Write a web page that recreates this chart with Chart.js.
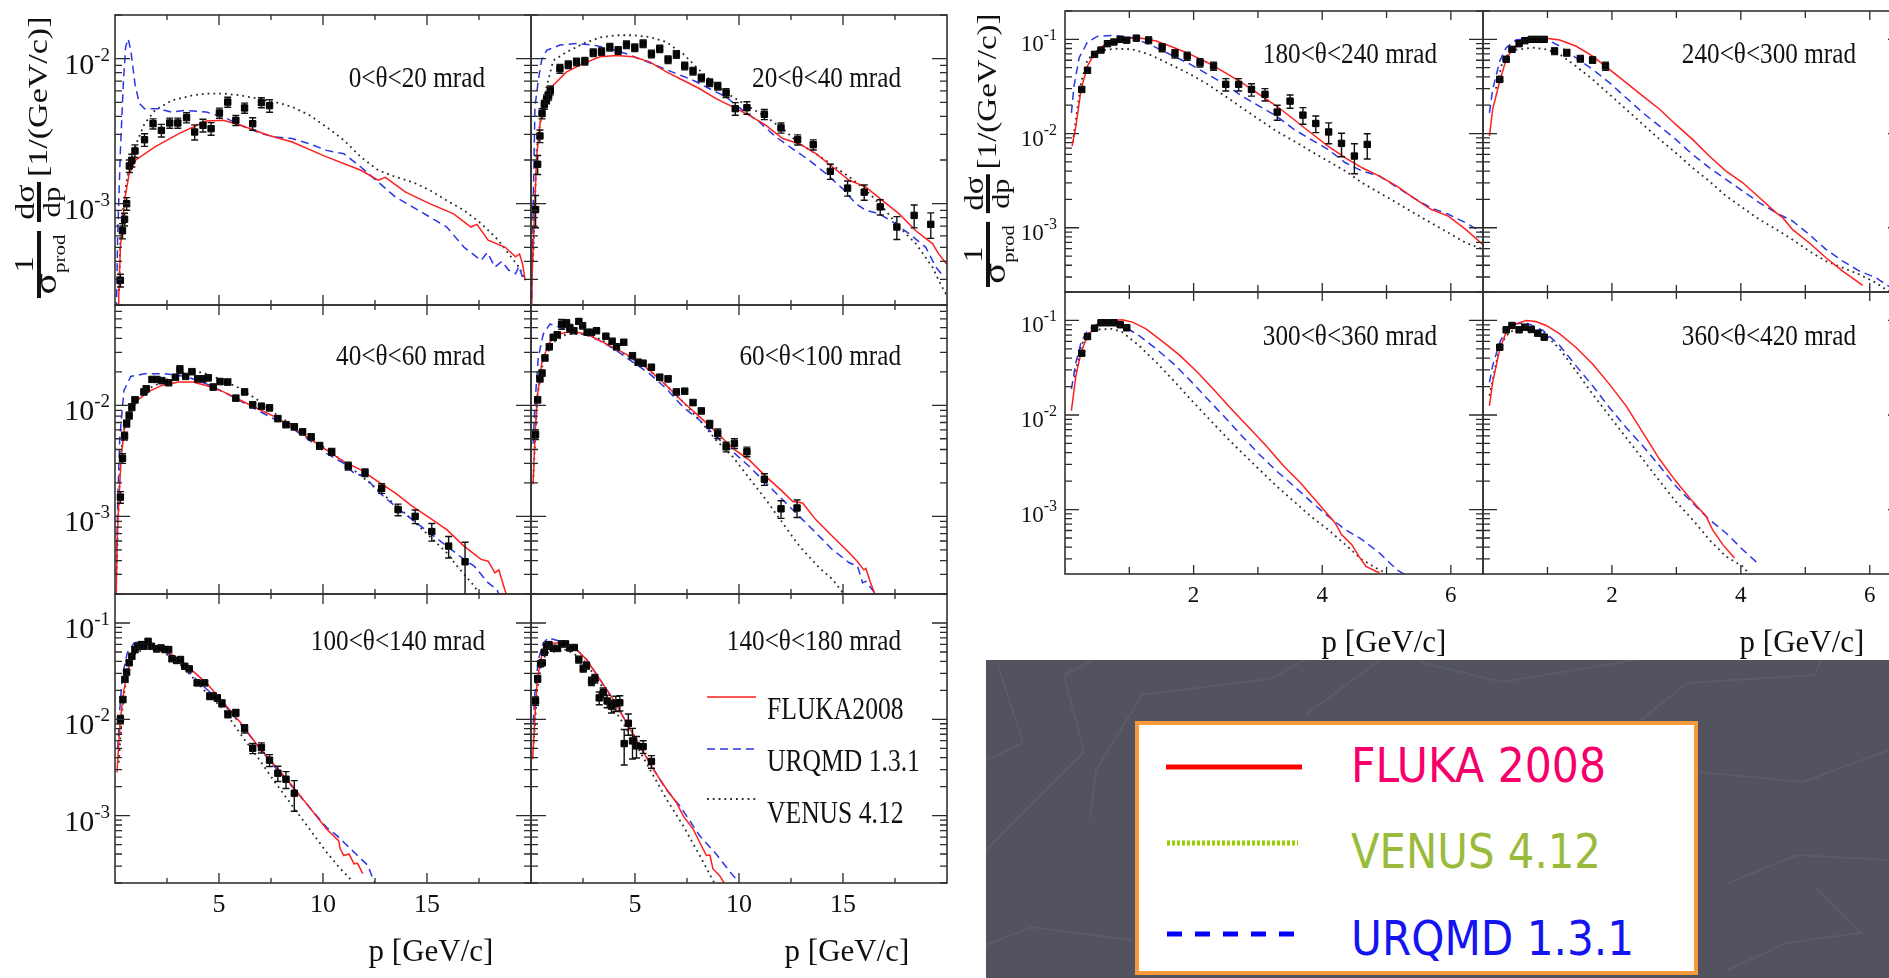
<!DOCTYPE html>
<html>
<head>
<meta charset="utf-8">
<title>pi- spectra vs models</title>
<script src="https://cdn.jsdelivr.net/npm/chart.js@4.4.1/dist/chart.umd.min.js"></script>
<style>
  html, body { margin: 0; padding: 0; background: #fff; overflow: hidden; }
  #page { position: relative; width: 1889px; height: 978px; overflow: hidden; background: #fff; }
  #page canvas { position: absolute; z-index: 1; }
  #page #deco { left: 0; top: 0; z-index: 2; pointer-events: none; }
  #dark { position: absolute; left: 986px; top: 660px; z-index: 3; }
</style>
</head>
<body>
<div id="page">
  <canvas id="deco" width="1889" height="978"></canvas>
  <svg id="dark" width="903" height="318" xmlns="http://www.w3.org/2000/svg">
    <rect x="0" y="0" width="903" height="318" fill="#52535f"/>
    <g fill="none" stroke="#5b5c68" stroke-width="2">
      <polyline points="11,2 37,83 0,100"/>
      <polyline points="78,15 107,0"/>
      <polyline points="78,15 98,92 0,190"/>
      <polyline points="156,35 284,19 319,0"/>
      <polyline points="156,35 110,110 104,158"/>
      <polyline points="394,0 319,55"/>
      <polyline points="434,2 516,22 649,0"/>
      <polyline points="701,23 829,15 835,0"/>
      <polyline points="701,23 655,60"/>
      <polyline points="713,112 817,122 903,90"/>
      <polyline points="742,223 811,195 903,200"/>
      <polyline points="829,227 875,273 800,283 742,310"/>
      <polyline points="0,285 46,267 145,280"/>
    </g>
    <rect x="151" y="63" width="559" height="250" fill="#fff" stroke="#f5993b" stroke-width="4"/>
    <line x1="180" y1="107" x2="316" y2="107" stroke="#ff0000" stroke-width="5"/>
    <line x1="181" y1="183" x2="312" y2="183" stroke="#99cc00" stroke-width="5" stroke-dasharray="3 2"/>
    <line x1="181" y1="274" x2="310" y2="274" stroke="#0000ff" stroke-width="5" stroke-dasharray="15 13"/>
    <g font-family="'DejaVu Sans Condensed', 'DejaVu Sans', sans-serif" font-size="48">
      <text x="365" y="122" fill="#f5006a" textLength="255" lengthAdjust="spacingAndGlyphs">FLUKA 2008</text>
      <text x="365" y="208" fill="#9aba3c" textLength="250" lengthAdjust="spacingAndGlyphs">VENUS 4.12</text>
      <text x="365" y="295" fill="#1414f0" textLength="283" lengthAdjust="spacingAndGlyphs">URQMD 1.3.1</text>
    </g>
  </svg>
</div>
<script>
// labels and ticks
const angleBins = ['0<θ<20 mrad', '20<θ<40 mrad', '40<θ<60 mrad', '60<θ<100 mrad', '100<θ<140 mrad',
  '140<θ<180 mrad', '180<θ<240 mrad', '240<θ<300 mrad', '300<θ<360 mrad', '360<θ<420 mrad'];
const modelNames = ['FLUKA2008', 'URQMD 1.3.1', 'VENUS 4.12'];
const xTicksWide = [5, 10, 15];
const xTicksNarrow = [2, 4, 6];
const yTickDecades = [1e-1, 1e-2, 1e-3];

// 0-20 mrad
const A_p = [0.26,0.36,0.46,0.56,0.69,0.81,0.96,1.42,1.83,2.23,2.63,3.02,3.44,3.83,4.23,4.62,5.02,5.42,5.81,6.23,6.62,7.04,7.43];
const A_y = [2.96e-4,6.5e-4,7.8e-4,1.0e-3,1.82e-3,1.99e-3,2.31e-3,2.76e-3,3.56e-3,3.2e-3,3.6e-3,3.6e-3,3.92e-3,3.12e-3,3.47e-3,3.29e-3,4.22e-3,5.02e-3,3.76e-3,4.57e-3,3.56e-3,4.98e-3,4.74e-3];
const A_err = [0.1,0.12,0.1,0.1,0.1,0.1,0.1,0.1,0.08,0.1,0.08,0.08,0.08,0.12,0.1,0.1,0.08,0.08,0.08,0.08,0.1,0.08,0.1];
const A_fluka = [[0.15,1.5e-4],[0.18,2.3e-4],[0.26,5e-4],[0.46,1.05e-3],[0.68,1.61e-3],[1.0,2.0e-3],[1.92,2.46e-3],[3.07,3.04e-3],[4.39,3.71e-3],[5.2,3.76e-3],[6.04,3.47e-3],[7.37,2.96e-3],[8.52,2.66e-3],[10.17,2.1e-3],[11.82,1.7e-3],[12.65,1.45e-3],[13.0,1.52e-3],[13.97,1.2e-3],[15.13,1.0e-3],[16.28,8.5e-4],[17.11,6.9e-4],[17.4,7.2e-4],[17.94,5.6e-4],[18.76,5.0e-4],[19.26,4.3e-4],[19.45,4.5e-4],[19.59,3.86e-4],[19.72,2.96e-4]];
const A_urqmd = [[0.06,1.5e-4],[0.13,6.2e-4],[0.26,2.33e-3],[0.40,6.7e-3],[0.51,1.2e-2],[0.63,1.37e-2],[0.76,1.14e-2],[0.96,6.7e-3],[1.17,4.9e-3],[1.42,4.52e-3],[2.08,4.52e-3],[2.74,4.28e-3],[3.40,4.4e-3],[4.39,4.28e-3],[5.22,3.96e-3],[6.04,3.47e-3],[7.04,3.04e-3],[7.70,2.88e-3],[8.52,2.81e-3],[9.35,2.59e-3],[10.17,2.33e-3],[11.0,2.21e-3],[11.82,1.79e-3],[12.65,1.41e-3],[13.48,1.11e-3],[14.3,9.5e-4],[15.13,8.1e-4],[15.95,6.9e-4],[16.78,5.0e-4],[17.6,4.06e-4],[17.9,4.6e-4],[18.27,3.65e-4],[18.6,4.0e-4],[18.93,3.47e-4],[19.26,3.29e-4],[19.42,3.7e-4],[19.59,3.12e-4]];
const A_venus = [[0.2,2.5e-4],[0.26,6.2e-4],[0.51,1.3e-3],[0.76,2.0e-3],[1.09,2.74e-3],[1.42,3.56e-3],[1.92,4.4e-3],[2.74,5.16e-3],[3.73,5.58e-3],[4.39,5.74e-3],[5.22,5.74e-3],[6.04,5.58e-3],[6.87,5.3e-3],[7.70,5.02e-3],[8.52,4.65e-3],[9.35,4.07e-3],[10.17,3.38e-3],[11.0,2.74e-3],[11.82,2.1e-3],[12.65,1.7e-3],[13.48,1.53e-3],[14.3,1.41e-3],[15.13,1.24e-3],[15.95,1.05e-3],[16.78,9.0e-4],[17.6,7.3e-4],[18.43,5.6e-4],[18.93,4.5e-4],[19.42,3.65e-4],[19.7,3.0e-4]];

// 20-40 mrad
const B_p = [0.22,0.32,0.43,0.53,0.64,0.75,0.85,0.93,1.39,1.79,2.19,2.59,2.99,3.39,3.79,4.19,4.59,4.99,5.39,5.79,6.19,6.59,6.99,7.39,7.79,8.19,8.59,8.98,9.38,9.82,10.38,11.22,12.02,12.82,13.57,14.39,15.22,16.02,16.79,17.59,18.42,19.22];
const B_y = [9.1e-4,1.87e-3,2.93e-3,4.18e-3,4.82e-3,5.25e-3,5.58e-3,6.05e-3,8.53e-3,9.1e-3,9.5e-3,9.6e-3,1.1e-2,1.12e-2,1.2e-2,1.14e-2,1.25e-2,1.19e-2,1.27e-2,1.08e-2,1.17e-2,9.85e-3,1.07e-2,8.9e-3,8.2e-3,7.36e-3,6.83e-3,6.47e-3,5.8e-3,4.52e-3,4.59e-3,4.13e-3,3.33e-3,2.76e-3,2.55e-3,1.67e-3,1.28e-3,1.2e-3,9.5e-4,6.9e-4,8.3e-4,7.2e-4];
const B_err = [0.25,0.15,0.1,0.08,0.07,0.07,0.07,0.07,0.07,0.06,0.06,0.06,0.06,0.06,0.06,0.06,0.06,0.06,0.06,0.06,0.06,0.06,0.06,0.06,0.06,0.06,0.06,0.06,0.07,0.1,0.1,0.08,0.08,0.08,0.08,0.12,0.12,0.12,0.12,0.18,0.18,0.2];
const B_fluka = [[0.03,1.8e-4],[0.06,3.4e-4],[0.16,8.1e-4],[0.27,2.1e-3],[0.43,3.56e-3],[0.75,5.44e-3],[1.07,6.55e-3],[1.71,8.1e-3],[2.51,9.24e-3],[3.31,1.03e-2],[4.11,1.05e-2],[4.91,1.03e-2],[5.71,9.5e-3],[6.51,8.1e-3],[7.31,7.1e-3],[8.11,6.2e-3],[8.90,5.3e-3],[9.70,4.65e-3],[10.5,4.06e-3],[11.3,3.47e-3],[12.1,2.81e-3],[12.9,2.59e-3],[13.7,2.21e-3],[14.5,1.79e-3],[15.3,1.45e-3],[16.1,1.3e-3],[16.9,1.05e-3],[17.7,8.5e-4],[18.5,6.5e-4],[19.3,5.3e-4],[19.6,4.5e-4],[20,3.8e-4]];
const B_urqmd = [[0.03,1.8e-4],[0.06,3.5e-4],[0.11,1.05e-3],[0.19,4.65e-3],[0.35,7.1e-3],[0.51,9.75e-3],[0.75,1.14e-2],[1.39,1.24e-2],[2.19,1.27e-2],[2.99,1.24e-2],[3.79,1.17e-2],[4.59,1.08e-2],[5.39,9.75e-3],[6.19,8.77e-3],[6.99,7.88e-3],[7.79,7.1e-3],[8.59,6.2e-3],[9.38,5.44e-3],[10.18,4.4e-3],[10.98,3.66e-3],[11.78,2.88e-3],[12.58,2.39e-3],[13.38,1.99e-3],[14.18,1.61e-3],[14.98,1.27e-3],[15.62,1.0e-3],[16.1,9.0e-4],[16.74,8.5e-4],[17.38,7.5e-4],[18.18,6.2e-4],[18.98,5.0e-4],[19.46,3.65e-4],[19.8,3.2e-4]];
const B_venus = [[0.1,4e-4],[0.27,2.33e-3],[0.59,5.2e-3],[1.07,9.7e-3],[1.71,1.11e-2],[2.51,1.27e-2],[3.31,1.40e-2],[4.11,1.45e-2],[4.91,1.45e-2],[5.71,1.41e-2],[6.51,1.30e-2],[7.31,1.08e-2],[8.11,8.3e-3],[8.90,6.55e-3],[9.70,5.44e-3],[10.5,4.65e-3],[11.3,3.96e-3],[12.1,3.29e-3],[12.9,2.59e-3],[13.7,2.21e-3],[14.5,1.84e-3],[15.3,1.53e-3],[16.1,1.24e-3],[16.9,9.5e-4],[17.7,6.9e-4],[18.5,5.3e-4],[19.3,3.65e-4],[19.6,2.96e-4],[20,2.3e-4]];

// 40-60 mrad
const C_p = [0.26,0.36,0.46,0.56,0.68,0.81,0.96,1.39,1.50,1.78,2.01,2.25,2.58,2.91,3.12,3.40,3.70,3.98,4.23,4.48,4.72,5.05,5.42,5.81,6.23,6.62,7.04,7.43,7.83,8.22,8.62,9.02,9.43,9.84,10.42,11.21,12.02,12.82,13.61,14.43,15.23,16.04,16.83];
const C_y = [1.49e-3,3.33e-3,5.3e-3,6.86e-3,8.1e-3,9.66e-3,1.12e-2,1.32e-2,1.41e-2,1.71e-2,1.71e-2,1.67e-2,1.6e-2,1.79e-2,2.1e-2,1.82e-2,2.01e-2,1.73e-2,1.73e-2,1.77e-2,1.46e-2,1.64e-2,1.62e-2,1.16e-2,1.32e-2,1.01e-2,9.8e-3,9.5e-3,7.6e-3,6.7e-3,6.4e-3,5.77e-3,5.2e-3,4.32e-3,3.82e-3,2.84e-3,2.48e-3,1.79e-3,1.15e-3,1.0e-3,7.3e-4,5.4e-4,3.9e-4];
const C_err = [0.12,0.1,0.08,0.07,0.07,0.07,0.06,0.06,0.06,0.06,0.06,0.06,0.06,0.06,0.08,0.06,0.06,0.06,0.06,0.06,0.06,0.06,0.06,0.06,0.06,0.06,0.06,0.06,0.06,0.06,0.06,0.06,0.06,0.07,0.07,0.08,0.08,0.1,0.12,0.14,0.18,0.22,0.5];
const C_fluka = [[0.06,2e-4],[0.1,5.8e-4],[0.18,1.32e-3],[0.30,3.44e-3],[0.46,6.4e-3],[0.76,9.0e-3],[1.09,1.11e-2],[1.59,1.32e-2],[2.25,1.51e-2],[3.07,1.62e-2],[3.73,1.62e-2],[4.39,1.51e-2],[5.22,1.32e-2],[6.04,1.11e-2],[6.87,9.3e-3],[7.70,7.87e-3],[8.52,6.4e-3],[9.35,5.02e-3],[10.17,3.95e-3],[11.0,3.11e-3],[11.82,2.62e-3],[12.65,2.06e-3],[13.48,1.62e-3],[14.3,1.23e-3],[15.13,9.7e-4],[15.95,7.6e-4],[16.78,5.4e-4],[17.6,4.1e-4],[17.94,3.95e-4],[18.27,3.1e-4],[18.45,3.3e-4],[18.76,2.13e-4],[18.9,1.8e-4]];
const C_urqmd = [[0.06,3e-4],[0.13,1.32e-3],[0.23,5.2e-3],[0.43,1.36e-2],[0.76,1.82e-2],[1.42,1.92e-2],[2.41,1.92e-2],[3.40,1.82e-2],[4.39,1.56e-2],[5.22,1.32e-2],[6.04,1.09e-2],[6.87,9.0e-3],[7.70,7.44e-3],[8.52,6.18e-3],[9.35,4.86e-3],[10.17,3.69e-3],[11.0,3.0e-3],[11.5,2.44e-3],[12.0,2.3e-3],[12.65,1.67e-3],[13.48,1.23e-3],[14.3,9.3e-4],[15.13,7.1e-4],[15.95,5.4e-4],[16.78,4.1e-4],[17.27,3.56e-4],[17.93,2.53e-4],[18.35,2.21e-4],[18.5,1.9e-4]];
const C_venus = [[0.08,3e-4],[0.15,9.3e-4],[0.26,3.44e-3],[0.46,6.4e-3],[0.76,9.66e-3],[1.42,1.36e-2],[2.41,1.67e-2],[3.07,1.92e-2],[3.73,2.06e-2],[4.39,1.92e-2],[5.22,1.67e-2],[6.04,1.41e-2],[6.87,1.11e-2],[7.70,8.4e-3],[9.35,5.2e-3],[11.0,3.1e-3],[12.65,1.73e-3],[14.3,9.3e-4],[15.13,6.6e-4],[15.95,4.7e-4],[16.45,3.56e-4],[17.27,2.36e-4],[17.44,2.1e-4],[17.6,1.9e-4]];

// 60-100 mrad
const D_p = [0.22,0.32,0.43,0.53,0.67,0.88,1.07,1.26,1.47,1.71,1.87,2.06,2.30,2.48,2.70,2.91,3.15,3.60,3.90,4.11,4.46,4.88,5.15,5.39,5.79,6.19,6.59,6.99,7.39,7.79,8.19,8.59,8.98,9.38,9.78,10.38,11.22,12.02,12.79];
const D_y = [5.46e-3,1.12e-2,1.73e-2,1.95e-2,2.67e-2,3.37e-2,4.09e-2,4.32e-2,5.38e-2,5.46e-2,4.96e-2,4.7e-2,5.69e-2,5.2e-2,4.54e-2,4.54e-2,4.7e-2,4.18e-2,3.77e-2,3.37e-2,3.69e-2,2.8e-2,2.44e-2,2.39e-2,2.2e-2,1.79e-2,1.73e-2,1.32e-2,1.34e-2,1.06e-2,8.9e-3,6.76e-3,5.57e-3,4.23e-3,4.54e-3,3.82e-3,2.16e-3,1.17e-3,1.19e-3];
const D_err = [0.1,0.06,0.06,0.06,0.06,0.06,0.06,0.06,0.1,0.08,0.08,0.06,0.06,0.06,0.06,0.06,0.06,0.06,0.06,0.06,0.06,0.06,0.06,0.06,0.06,0.06,0.06,0.06,0.06,0.06,0.06,0.08,0.1,0.1,0.1,0.1,0.12,0.18,0.18];
const D_fluka = [[0.1,1.95e-3],[0.19,5.2e-3],[0.30,1.19e-2],[0.51,2.36e-2],[0.83,3.56e-2],[1.23,4.32e-2],[1.71,4.54e-2],[2.19,4.54e-2],[2.67,4.38e-2],[3.31,3.82e-2],[4.11,3.21e-2],[4.91,2.67e-2],[5.71,2.06e-2],[6.51,1.51e-2],[7.31,1.07e-2],[8.11,7.87e-3],[8.90,5.77e-3],[9.70,4.09e-3],[10.5,3.21e-3],[11.3,2.28e-3],[12.1,1.67e-3],[12.58,1.36e-3],[13.06,1.32e-3],[13.7,9.3e-4],[14.5,6.6e-4],[15.3,4.7e-4],[15.7,3.9e-4],[16.0,3.3e-4],[16.1,3.4e-4],[16.3,2.6e-4],[16.5,2.07e-4],[16.6,1.8e-4]];
const D_urqmd = [[0.1,4.5e-3],[0.19,1.03e-2],[0.35,2.71e-2],[0.59,4.38e-2],[0.91,5.38e-2],[1.2,5.2e-2],[1.71,4.7e-2],[2.67,4.3e-2],[3.31,3.82e-2],[4.11,3.11e-2],[4.91,2.44e-2],[5.71,1.92e-2],[6.51,1.41e-2],[7.31,9.66e-3],[8.11,7.34e-3],[8.90,5.2e-3],[9.70,3.82e-3],[10.5,2.81e-3],[11.3,1.99e-3],[12.1,1.41e-3],[12.9,1.0e-3],[13.7,7.1e-4],[14.5,5.0e-4],[15.3,3.82e-4],[15.7,3.56e-4],[15.94,2.53e-4],[16.1,2.6e-4],[16.5,2.07e-4],[16.6,1.8e-4]];
const D_venus = [[0.1,2.0e-3],[0.30,1.19e-2],[0.59,2.53e-2],[1.07,3.7e-2],[1.71,4.38e-2],[2.51,4.38e-2],[3.31,3.96e-2],[4.11,3.21e-2],[4.91,2.6e-2],[5.71,2.06e-2],[6.51,1.51e-2],[7.31,1.07e-2],[8.11,7.34e-3],[8.9,4.86e-3],[9.7,3.44e-3],[10.5,2.2e-3],[11.3,1.41e-3],[12.1,8.7e-4],[12.9,5.4e-4],[13.86,3.44e-4],[14.5,2.71e-4],[14.98,2.06e-4],[15.1,1.9e-4]];

// 100-140 mrad
const E_p = [0.26,0.38,0.48,0.56,0.68,0.81,0.96,1.09,1.26,1.39,1.59,1.75,2.0,2.21,2.41,2.58,2.74,2.96,3.15,3.35,3.57,3.95,4.31,4.56,4.72,4.92,5.14,5.43,5.81,6.23,6.62,7.04,7.43,7.83,8.22,8.62];
const E_y = [1.0e-2,1.61e-2,2.6e-2,3.09e-2,3.86e-2,4.52e-2,5.3e-2,5.74e-2,5.97e-2,5.74e-2,6.46e-2,5.74e-2,5.38e-2,5.51e-2,5.3e-2,5.3e-2,4.25e-2,4.08e-2,4.18e-2,3.56e-2,3.34e-2,2.39e-2,2.39e-2,1.74e-2,1.74e-2,1.67e-2,1.47e-2,1.13e-2,1.17e-2,8.0e-3,5.01e-3,5.09e-3,3.77e-3,2.76e-3,2.39e-3,1.71e-3];
const E_err = [0.1,0.07,0.06,0.06,0.06,0.06,0.06,0.06,0.06,0.06,0.06,0.06,0.06,0.06,0.06,0.06,0.06,0.06,0.06,0.06,0.06,0.06,0.06,0.08,0.08,0.08,0.08,0.08,0.08,0.1,0.12,0.12,0.14,0.18,0.2,0.35];
const E_fluka = [[0.1,2.81e-3],[0.18,5.74e-3],[0.26,1.0e-2],[0.43,2.04e-2],[0.68,3.56e-2],[1.0,5.09e-2],[1.42,5.97e-2],[1.75,6.07e-2],[2.25,5.51e-2],[2.74,4.7e-2],[3.57,3.42e-2],[4.39,2.39e-2],[5.22,1.49e-2],[6.04,9.24e-3],[6.87,5.3e-3],[7.70,3.29e-3],[8.52,2.04e-3],[9.35,1.22e-3],[10.17,7.28e-4],[10.75,5.5e-4],[10.83,4.5e-4],[11.0,3.86e-4],[11.25,4.0e-4],[11.49,3.16e-4],[11.66,3.2e-4],[11.91,2.5e-4]];
const E_urqmd = [[0.13,4.9e-3],[0.23,1.27e-2],[0.35,2.8e-2],[0.59,4.9e-2],[0.92,6.2e-2],[1.26,6.46e-2],[1.75,5.97e-2],[2.41,5.09e-2],[3.24,3.7e-2],[4.06,2.39e-2],[5.22,1.45e-2],[6.04,8.9e-3],[6.87,5.3e-3],[7.70,3.16e-3],[8.52,2.0e-3],[9.35,1.22e-3],[10.17,7.57e-4],[10.67,6.2e-4],[11.0,5.3e-4],[11.66,3.86e-4],[12.16,3.04e-4],[12.4,2.21e-4],[12.5,2.0e-4]];
const E_venus = [[0.18,3.56e-3],[0.35,1.27e-2],[0.59,3.29e-2],[1.0,4.9e-2],[1.59,5.51e-2],[2.25,5.09e-2],[3.07,3.86e-2],[3.9,2.49e-2],[4.39,1.89e-2],[5.22,1.27e-2],[6.04,7.0e-3],[6.87,4.0e-3],[7.70,2.21e-3],[8.52,1.27e-3],[9.35,7.28e-4],[10.17,4.18e-4],[10.83,2.81e-4],[11.25,2.3e-4],[11.4,2.0e-4]];

// 140-180 mrad
const F_p = [0.22,0.32,0.46,0.54,0.64,0.75,0.86,1.07,1.28,1.47,1.66,1.87,2.08,2.30,2.51,2.67,2.91,3.07,3.28,3.47,3.66,3.87,4.08,4.27,4.48,4.68,4.88,5.07,5.39,5.79];
const F_y = [1.55e-2,2.64e-2,3.77e-2,3.86e-2,4.97e-2,5.74e-2,5.97e-2,5.47e-2,5.44e-2,6.07e-2,6.07e-2,5.51e-2,5.57e-2,4.18e-2,3.37e-2,3.62e-2,2.49e-2,2.65e-2,1.67e-2,1.89e-2,1.55e-2,1.37e-2,1.47e-2,1.49e-2,5.6e-3,9.1e-3,5.97e-3,5.3e-3,5.21e-3,3.65e-3];
const F_err = [0.1,0.08,0.06,0.06,0.06,0.06,0.06,0.06,0.06,0.06,0.06,0.06,0.06,0.08,0.08,0.08,0.1,0.1,0.15,0.12,0.15,0.15,0.18,0.18,0.4,0.25,0.35,0.25,0.15,0.15];
const F_fluka = [[0.08,3.86e-3],[0.19,1.08e-2],[0.30,2.6e-2],[0.51,4.52e-2],[0.75,5.97e-2],[1.15,6.2e-2],[1.71,6.2e-2],[2.19,5.3e-2],[2.67,4.18e-2],[3.31,2.6e-2],[3.95,1.61e-2],[4.59,9.24e-3],[5.23,5.3e-3],[5.87,3.04e-3],[6.51,1.89e-3],[6.99,1.37e-3],[7.31,1.0e-3],[7.79,7.28e-4],[8.11,5.3e-4],[8.43,3.86e-4],[8.6,3.9e-4],[8.75,2.8e-4],[9.06,2.4e-4],[9.26,2.04e-4],[9.35,1.8e-4]];
const F_urqmd = [[0.11,9.2e-3],[0.19,1.89e-2],[0.35,4.18e-2],[0.59,6.2e-2],[0.83,7.0e-2],[1.23,6.62e-2],[1.71,6.2e-2],[2.19,5.3e-2],[2.67,4.18e-2],[3.31,2.6e-2],[3.95,1.61e-2],[4.59,9.24e-3],[5.23,5.4e-3],[5.87,3.1e-3],[6.51,1.85e-3],[7.15,1.27e-3],[8.11,6.2e-4],[8.90,4.0e-4],[9.70,2.4e-4],[9.94,2.13e-4],[10.0,2.0e-4]];
const F_venus = [[0.11,4.9e-3],[0.30,2.04e-2],[0.51,3.86e-2],[0.75,4.9e-2],[1.71,5.3e-2],[2.51,4.18e-2],[3.31,2.39e-2],[4.11,1.17e-2],[4.91,6.2e-3],[5.71,3.04e-3],[6.51,1.49e-3],[7.31,7.9e-4],[8.11,3.86e-4],[8.75,2.13e-4],[8.85,1.9e-4]];

// 180-240 mrad
const G_p = [0.26,0.35,0.46,0.56,0.66,0.76,0.86,0.96,1.11,1.30,1.51,1.71,1.90,2.10,2.31,2.50,2.70,2.90,3.11,3.30,3.50,3.70,3.90,4.10,4.30,4.50,4.70];
const G_y = [2.94e-2,4.69e-2,6.93e-2,7.7e-2,9.0e-2,9.37e-2,0.1,9.8e-2,0.103,9.8e-2,8.2e-2,7.05e-2,6.65e-2,5.65e-2,5.21e-2,3.33e-2,3.33e-2,2.94e-2,2.61e-2,1.69e-2,2.21e-2,1.57e-2,1.28e-2,1.04e-2,7.87e-3,5.77e-3,7.67e-3];
const G_err = [0.05,0.05,0.05,0.05,0.05,0.05,0.05,0.05,0.05,0.08,0.1,0.1,0.1,0.1,0.1,0.15,0.15,0.15,0.15,0.18,0.16,0.2,0.2,0.25,0.28,0.35,0.3];
const G_fluka = [[0.11,7.36e-3],[0.17,1.2e-2],[0.25,2.94e-2],[0.35,5.21e-2],[0.46,7.2e-2],[0.62,8.85e-2],[0.89,0.1016],[1.15,0.104],[1.42,9.6e-2],[1.69,8.2e-2],[1.95,6.93e-2],[2.22,5.65e-2],[2.49,4.43e-2],[2.75,3.47e-2],[3.02,2.61e-2],[3.29,1.96e-2],[3.56,1.41e-2],[3.82,1.02e-2],[4.09,7.36e-3],[4.36,5.53e-3],[4.62,4.33e-3],[4.89,3.54e-3],[5.16,2.77e-3],[5.42,2.08e-3],[5.69,1.57e-3],[5.96,1.33e-3],[6.23,9.6e-4],[6.47,6.9e-4],[6.5,6.6e-4]];
const G_urqmd = [[0.1,1.66e-2],[0.14,3.19e-2],[0.22,6.38e-2],[0.35,9.37e-2],[0.51,0.108],[0.78,0.110],[1.05,0.104],[1.31,8.85e-2],[1.69,6.65e-2],[1.95,5.43e-2],[2.22,4.25e-2],[2.49,3.33e-2],[2.75,2.5e-2],[3.02,1.96e-2],[3.29,1.53e-2],[3.56,1.11e-2],[3.82,8.67e-3],[4.09,6.79e-3],[4.36,4.9e-3],[4.62,4.0e-3],[4.89,3.54e-3],[5.16,2.7e-3],[5.42,2.08e-3],[5.69,1.63e-3],[5.96,1.39e-3],[6.23,1.13e-3],[6.5,8.8e-4]];
const G_venus = [[0.12,8e-3],[0.25,3.47e-2],[0.35,6.14e-2],[0.51,7.52e-2],[0.78,7.96e-2],[1.05,7.83e-2],[1.31,6.93e-2],[1.69,5.21e-2],[1.95,4.25e-2],[2.22,3.33e-2],[2.49,2.5e-2],[2.75,1.88e-2],[3.02,1.41e-2],[3.29,1.06e-2],[3.56,8.32e-3],[3.82,6.52e-3],[4.09,5.1e-3],[4.36,4.0e-3],[4.62,3.0e-3],[4.89,2.35e-3],[5.16,1.84e-3],[5.42,1.44e-3],[5.69,1.13e-3],[5.96,8.85e-4],[6.23,6.93e-4],[6.5,5.9e-4]];

// 240-300 mrad
const H_p = [0.26,0.36,0.45,0.56,0.65,0.75,0.85,0.95,1.11,1.30,1.51,1.70,1.90];
const H_y = [3.76e-2,6.14e-2,7.83e-2,9.0e-2,9.68e-2,0.1,0.1,0.1,7.52e-2,7.22e-2,6.24e-2,6.04e-2,5.21e-2];
const H_err = [0.04,0.04,0.04,0.04,0.04,0.04,0.04,0.04,0.08,0.08,0.08,0.08,0.1];
const H_fluka = [[0.1,9.4e-3],[0.15,1.81e-2],[0.26,3.61e-2],[0.36,6.14e-2],[0.46,7.96e-2],[0.67,9.6e-2],[0.98,0.1025],[1.19,9.84e-2],[1.44,8.5e-2],[1.70,6.65e-2],[1.96,4.8e-2],[2.22,3.47e-2],[2.48,2.5e-2],[2.74,1.81e-2],[2.99,1.25e-2],[3.25,8.67e-3],[3.51,5.77e-3],[3.77,4.0e-3],[4.03,3.0e-3],[4.29,2.08e-3],[4.55,1.44e-3],[4.65,1.28e-3],[4.80,9.6e-4],[5.06,6.93e-4],[5.32,4.8e-4],[5.58,3.47e-4],[5.89,2.44e-4]];
const H_urqmd = [[0.1,1.66e-2],[0.15,2.94e-2],[0.26,5.89e-2],[0.36,8.16e-2],[0.51,9.84e-2],[0.77,0.104],[0.98,0.1],[1.19,8.5e-2],[1.44,6.38e-2],[1.70,4.8e-2],[1.96,3.47e-2],[2.22,2.4e-2],[2.48,1.66e-2],[2.74,1.2e-2],[2.99,8.67e-3],[3.25,6.01e-3],[3.51,4.34e-3],[3.77,3.26e-3],[4.03,2.45e-3],[4.29,1.84e-3],[4.55,1.44e-3],[4.80,1.18e-3],[5.06,8.5e-4],[5.32,5.9e-4],[5.58,4.43e-4],[5.84,3.47e-4],[6.10,2.94e-4],[6.29,2.4e-4],[6.5,2.1e-4]];
const H_venus = [[0.2,3e-2],[0.31,6.1e-2],[0.46,7.7e-2],[0.77,8.16e-2],[0.98,7.83e-2],[1.19,6.93e-2],[1.44,5.21e-2],[1.70,3.76e-2],[1.96,2.61e-2],[2.22,1.81e-2],[2.48,1.25e-2],[2.74,8.67e-3],[2.99,6.25e-3],[3.25,4.34e-3],[3.51,3.13e-3],[3.77,2.17e-3],[4.03,1.63e-3],[4.29,1.22e-3],[4.55,9.6e-4],[4.80,7.5e-4],[5.06,5.65e-4],[5.32,4.43e-4],[5.58,3.76e-4],[5.84,3.19e-4],[6.10,2.6e-4],[6.25,2.21e-4],[6.5,1.9e-4]];

// 300-360 mrad
const I_p = [0.26,0.35,0.46,0.56,0.66,0.76,0.86,0.96];
const I_y = [4.5e-2,6.76e-2,8.29e-2,9.45e-2,9.45e-2,9.45e-2,9.0e-2,8.36e-2];
const I_err = [0.04,0.04,0.04,0.04,0.04,0.04,0.04,0.04];
const I_fluka = [[0.1,1.11e-2],[0.17,2.61e-2],[0.25,4.61e-2],[0.35,6.93e-2],[0.51,8.85e-2],[0.73,0.1],[0.89,0.1016],[1.05,9.6e-2],[1.26,8.16e-2],[1.53,5.89e-2],[1.79,4.25e-2],[2.06,2.83e-2],[2.33,1.81e-2],[2.59,1.15e-2],[2.86,7.36e-3],[3.13,4.71e-3],[3.40,2.88e-3],[3.66,1.92e-3],[3.93,1.18e-3],[4.20,7.22e-4],[4.30,5.43e-4],[4.46,4.25e-4],[4.57,3.19e-4],[4.68,2.5e-4],[4.84,2.21e-4],[4.89,2.16e-4]];
const I_urqmd = [[0.1,1.88e-2],[0.17,3.61e-2],[0.25,5.89e-2],[0.35,7.83e-2],[0.51,9.22e-2],[0.73,9.45e-2],[0.89,8.85e-2],[1.15,6.93e-2],[1.42,5.0e-2],[1.69,3.47e-2],[1.95,2.31e-2],[2.22,1.47e-2],[2.49,9.4e-3],[2.75,6.01e-3],[3.02,3.84e-3],[3.29,2.55e-3],[3.56,1.77e-3],[3.82,1.22e-3],[4.09,8.49e-4],[4.36,6.13e-4],[4.62,4.8e-4],[4.89,3.47e-4],[5.16,2.31e-4],[5.29,2.04e-4]];
const I_venus = [[0.15,2.5e-2],[0.25,5.43e-2],[0.35,7.22e-2],[0.51,8.0e-2],[0.73,8.16e-2],[0.89,7.52e-2],[1.15,5.43e-2],[1.42,3.61e-2],[1.69,2.31e-2],[1.95,1.47e-2],[2.22,9.4e-3],[2.49,6.01e-3],[2.75,4.0e-3],[3.02,2.66e-3],[3.29,1.77e-3],[3.56,1.22e-3],[3.82,8.49e-4],[4.09,6.13e-4],[4.36,4.25e-4],[4.62,2.94e-4],[4.84,2.4e-4],[5.0,2.1e-4]];

// 360-420 mrad
const J_p = [0.26,0.36,0.45,0.56,0.65,0.75,0.85,0.95];
const J_y = [5.21e-2,7.96e-2,8.85e-2,7.96e-2,8.49e-2,8.02e-2,7.33e-2,6.65e-2];
const J_err = [0.04,0.04,0.04,0.04,0.04,0.04,0.04,0.04];
const J_fluka = [[0.1,1.25e-2],[0.15,2.21e-2],[0.26,5.0e-2],[0.36,7.52e-2],[0.51,9.22e-2],[0.67,0.1],[0.82,9.76e-2],[0.98,8.85e-2],[1.19,7.22e-2],[1.44,5.21e-2],[1.70,3.47e-2],[1.96,2.12e-2],[2.22,1.25e-2],[2.48,6.52e-3],[2.74,3.4e-3],[2.99,2.0e-3],[3.25,1.22e-3],[3.46,8.49e-4],[3.56,6.13e-4],[3.72,4.25e-4],[3.90,3.07e-4]];
const J_urqmd = [[0.1,2.21e-2],[0.15,3.33e-2],[0.26,5.89e-2],[0.36,7.83e-2],[0.51,9.22e-2],[0.67,9.45e-2],[0.93,7.83e-2],[1.19,5.43e-2],[1.44,3.33e-2],[1.70,2.04e-2],[1.96,1.2e-2],[2.22,7.36e-3],[2.48,4.71e-3],[2.74,2.88e-3],[2.99,1.77e-3],[3.25,1.18e-3],[3.51,7.84e-4],[3.77,5.65e-4],[4.03,3.76e-4],[4.29,2.6e-4]];
const J_venus = [[0.1,1.6e-2],[0.26,5.43e-2],[0.41,7.52e-2],[0.67,8.85e-2],[0.93,7.52e-2],[1.19,5.0e-2],[1.44,2.94e-2],[1.70,1.66e-2],[1.96,9.8e-3],[2.22,5.77e-3],[2.48,3.4e-3],[2.74,2.0e-3],[2.99,1.22e-3],[3.25,7.84e-4],[3.51,4.8e-4],[3.77,3.19e-4],[4.03,2.5e-4],[4.1,2.2e-4]];

// two groups of pads with their own look
const LEFT = { xMax: 20, xStep: 2.5, xMajor: 5, xTicks: xTicksWide, yMajLen: 15, yMinLen: 7, xMajLen: 10, xMinLen: 5,
  yFont: 30, supFont: 19, labGap: 5, baseDy: 15, supDy: 2, xFont: 26, xDy: 29 };
const RIGHT = { xMax: 6.5, xStep: 1, xMajor: 2, xTicks: xTicksNarrow, yMajLen: 14, yMinLen: 7, xMajLen: 9, xMinLen: 7,
  yFont: 23, supFont: 16, labGap: 8, baseDy: 12, supDy: 1, xFont: 23, xDy: 28 };

const panels = [
  { name: angleBins[0], p: A_p, y: A_y, e: A_err, fl: A_fluka, ur: A_urqmd, ve: A_venus, box: [115, 15, 531, 305], range: [2e-4, 2e-2], blk: LEFT, yLab: true, xLab: false, labDy: 72 },
  { name: angleBins[1], p: B_p, y: B_y, e: B_err, fl: B_fluka, ur: B_urqmd, ve: B_venus, box: [531, 15, 947, 305], range: [2e-4, 2e-2], blk: LEFT, yLab: false, xLab: false, labDy: 72 },
  { name: angleBins[2], p: C_p, y: C_y, e: C_err, fl: C_fluka, ur: C_urqmd, ve: C_venus, box: [115, 305, 531, 594], range: [2e-4, 0.08], blk: LEFT, yLab: true, xLab: false, labDy: 60 },
  { name: angleBins[3], p: D_p, y: D_y, e: D_err, fl: D_fluka, ur: D_urqmd, ve: D_venus, box: [531, 305, 947, 594], range: [2e-4, 0.08], blk: LEFT, yLab: false, xLab: false, labDy: 60 },
  { name: angleBins[4], p: E_p, y: E_y, e: E_err, fl: E_fluka, ur: E_urqmd, ve: E_venus, box: [115, 594, 531, 883], range: [2e-4, 0.2], blk: LEFT, yLab: true, xLab: true, labDy: 56 },
  { name: angleBins[5], p: F_p, y: F_y, e: F_err, fl: F_fluka, ur: F_urqmd, ve: F_venus, box: [531, 594, 947, 883], range: [2e-4, 0.2], blk: LEFT, yLab: false, xLab: true, labDy: 56, legend: true },
  { name: angleBins[6], p: G_p, y: G_y, e: G_err, fl: G_fluka, ur: G_urqmd, ve: G_venus, box: [1065, 11, 1483, 292], range: [2.08e-4, 0.2], blk: RIGHT, yLab: true, xLab: false, labDy: 52 },
  { name: angleBins[7], p: H_p, y: H_y, e: H_err, fl: H_fluka, ur: H_urqmd, ve: H_venus, box: [1483, 11, 1902, 292], range: [2.08e-4, 0.2], blk: RIGHT, yLab: false, xLab: false, labDy: 52 },
  { name: angleBins[8], p: I_p, y: I_y, e: I_err, fl: I_fluka, ur: I_urqmd, ve: I_venus, box: [1065, 292, 1483, 574], range: [2.08e-4, 0.2], blk: RIGHT, yLab: true, xLab: true, labDy: 53 },
  { name: angleBins[9], p: J_p, y: J_y, e: J_err, fl: J_fluka, ur: J_urqmd, ve: J_venus, box: [1483, 292, 1902, 574], range: [2.08e-4, 0.2], blk: RIGHT, yLab: false, xLab: true, labDy: 53 }
];

const SERIF = '"Liberation Serif", "Times New Roman", serif';
const PAD = { left: 70, right: 6, top: 6, bottom: 40 };
const pts = (arr) => arr.map(([x, y]) => ({ x, y }));

function drawPadDecor(chart, P) {
  const { ctx, chartArea: a, scales: { x, y } } = chart;
  const B = P.blk;
  ctx.save();
  ctx.strokeStyle = '#2a2a2a';
  ctx.lineWidth = 1.3;
  ctx.beginPath();
  // x ticks, top and bottom, pointing inwards
  for (let v = B.xStep; v < B.xMax - 1e-6; v += B.xStep) {
    const px = x.getPixelForValue(v);
    const len = Math.abs(v / B.xMajor - Math.round(v / B.xMajor)) < 1e-6 ? B.xMajLen : B.xMinLen;
    ctx.moveTo(px, a.bottom); ctx.lineTo(px, a.bottom - len);
    ctx.moveTo(px, a.top); ctx.lineTo(px, a.top + len);
  }
  // log y ticks, left and right
  const [ymin, ymax] = P.range;
  for (let d = Math.floor(Math.log10(ymin)); d <= Math.ceil(Math.log10(ymax)); d++) {
    for (let m = 1; m <= 9; m++) {
      const v = m * Math.pow(10, d);
      if (v < ymin || v > ymax) continue;
      const py = y.getPixelForValue(v);
      const len = m === 1 ? B.yMajLen : B.yMinLen;
      ctx.moveTo(a.left, py); ctx.lineTo(a.left + len, py);
      ctx.moveTo(a.right, py); ctx.lineTo(a.right - len, py);
    }
  }
  ctx.stroke();
  ctx.lineWidth = 1.6;
  ctx.strokeStyle = '#333';
  ctx.strokeRect(a.left, a.top, a.right - a.left, a.bottom - a.top);

  ctx.fillStyle = '#111';
  ctx.textBaseline = 'alphabetic';
  if (P.yLab) {
    yTickDecades.forEach((v) => {
      if (v < ymin || v > ymax) return;
      const py = y.getPixelForValue(v);
      const sup = '-' + Math.round(-Math.log10(v));
      ctx.font = B.supFont + 'px ' + SERIF;
      ctx.textAlign = 'right';
      const sw = ctx.measureText(sup).width;
      ctx.fillText(sup, a.left - B.labGap, py + B.supDy);
      ctx.font = B.yFont + 'px ' + SERIF;
      ctx.fillText('10', a.left - B.labGap - sw, py + B.baseDy);
    });
  }
  if (P.xLab) {
    ctx.font = B.xFont + 'px ' + SERIF;
    ctx.textAlign = 'center';
    B.xTicks.forEach((v) => ctx.fillText(String(v), x.getPixelForValue(v), a.bottom + B.xDy));
  }
  // bin label
  ctx.save();
  ctx.translate(a.right - 46, a.top + P.labDy);
  ctx.scale(0.84, 1);
  ctx.font = '30px ' + SERIF;
  ctx.textAlign = 'right';
  ctx.fillText(P.name, 0, 0);
  ctx.restore();

  if (P.legend) {
    const rows = [[0, 103, 125], [1, 155, 177], [2, 205, 229]];
    rows.forEach(([i, ly, ty]) => {
      const ds = chart.data.datasets[i];
      ctx.save();
      ctx.strokeStyle = ds.borderColor;
      ctx.lineWidth = ds.borderWidth;
      ctx.setLineDash(ds.borderDash || []);
      ctx.beginPath();
      ctx.moveTo(a.left + 176, a.top + ly);
      ctx.lineTo(a.left + 225, a.top + ly);
      ctx.stroke();
      ctx.restore();
      ctx.save();
      ctx.translate(a.left + 236, a.top + ty);
      ctx.scale(0.8, 1);
      ctx.font = '32px ' + SERIF;
      ctx.textAlign = 'left';
      ctx.fillStyle = '#111';
      ctx.fillText(modelNames[i], 0, 0);
      ctx.restore();
    });
  }
  ctx.restore();
}

function padPlugin(P) {
  return {
    id: 'rootPad',
    afterDatasetsDraw(chart) {
      const { ctx, chartArea: a, scales: { x, y } } = chart;
      ctx.save();
      ctx.beginPath();
      ctx.rect(a.left, a.top, a.right - a.left, a.bottom - a.top);
      ctx.clip();
      ctx.strokeStyle = '#111';
      ctx.lineWidth = 1.4;
      ctx.beginPath();
      P.p.forEach((pv, i) => {
        const px = x.getPixelForValue(pv);
        const lo = y.getPixelForValue(P.y[i] * (1 - P.e[i]));
        const hi = y.getPixelForValue(P.y[i] * (1 + P.e[i]));
        ctx.moveTo(px, lo); ctx.lineTo(px, hi);
        ctx.moveTo(px - 3.5, lo); ctx.lineTo(px + 3.5, lo);
        ctx.moveTo(px - 3.5, hi); ctx.lineTo(px + 3.5, hi);
      });
      ctx.stroke();
      ctx.restore();
    },
    afterDraw(chart) { drawPadDecor(chart, P); }
  };
}

const page = document.getElementById('page');
const deco = document.getElementById('deco');

panels.forEach((P) => {
  const [l, t, r, b] = P.box;
  const cv = document.createElement('canvas');
  cv.width = r - l + PAD.left + PAD.right;
  cv.height = b - t + PAD.top + PAD.bottom;
  cv.style.left = (l - PAD.left) + 'px';
  cv.style.top = (t - PAD.top) + 'px';
  page.insertBefore(cv, deco);

  new Chart(cv, {
    type: 'scatter',
    data: {
      datasets: [
        { label: modelNames[0], data: pts(P.fl), showLine: true, borderColor: '#ff1f1f', borderWidth: 1.5, pointRadius: 0, order: 1 },
        { label: modelNames[1], data: pts(P.ur), showLine: true, borderColor: '#2a35e6', borderWidth: 1.5, borderDash: [8, 5], pointRadius: 0, order: 1 },
        { label: modelNames[2], data: pts(P.ve), showLine: true, borderColor: '#2b2b2b', borderWidth: 1.8, borderDash: [1.8, 4], pointRadius: 0, order: 1 },
        { label: 'data', data: P.p.map((p, i) => ({ x: p, y: P.y[i] })), showLine: false, pointStyle: 'rect',
          pointRadius: 4.5, borderWidth: 1, backgroundColor: '#000', borderColor: '#000', order: 0 }
      ]
    },
    options: {
      responsive: false,
      animation: false,
      devicePixelRatio: 1,
      events: [],
      layout: { padding: PAD, autoPadding: false },
      plugins: { legend: { display: false }, tooltip: { enabled: false } },
      scales: {
        x: { type: 'linear', min: 0, max: P.blk.xMax, display: false },
        y: { type: 'logarithmic', min: P.range[0], max: P.range[1], display: false }
      }
    },
    plugins: [padPlugin(P)]
  });
});

// axis titles
function drawYTitle(ctx, barX, bottomY, len) {
  const k = len / 285;
  ctx.save();
  ctx.translate(barX, bottomY);
  ctx.rotate(-Math.PI / 2);
  ctx.scale(k, 0.8);
  ctx.fillStyle = '#111';
  ctx.textBaseline = 'alphabetic';
  ctx.fillRect(0, -2.5, 67, 5);
  ctx.textAlign = 'center';
  ctx.font = '33px ' + SERIF;
  ctx.fillText('1', 33.5, -7);
  ctx.font = '40px ' + SERIF;
  const sw = ctx.measureText('σ').width;
  ctx.font = '21px ' + SERIF;
  const pw = ctx.measureText('prod').width;
  const x0 = 33.5 - (sw + pw) / 2;
  ctx.textAlign = 'left';
  ctx.font = '40px ' + SERIF;
  ctx.fillText('σ', x0, 21);
  ctx.font = '21px ' + SERIF;
  ctx.fillText('prod', x0 + sw, 32);
  ctx.fillRect(76, -2.5, 40, 5);
  ctx.textAlign = 'center';
  ctx.font = '34px ' + SERIF;
  ctx.fillText('dσ', 96, -6);
  ctx.font = '31px ' + SERIF;
  ctx.fillText('dp', 96, 26);
  ctx.textAlign = 'left';
  ctx.font = '34px ' + SERIF;
  ctx.fillText('[1/(GeV/c)]', 121, 10);
  ctx.restore();
}

const dctx = deco.getContext('2d');
drawYTitle(dctx, 39, 298, 285);
drawYTitle(dctx, 988, 287, 277);
dctx.fillStyle = '#111';
dctx.font = '31px ' + SERIF;
dctx.textAlign = 'center';
[[431, 961], [847, 961], [1384, 652], [1802, 652]].forEach(([cx, by]) => dctx.fillText('p [GeV/c]', cx, by));
</script>
</body>
</html>
